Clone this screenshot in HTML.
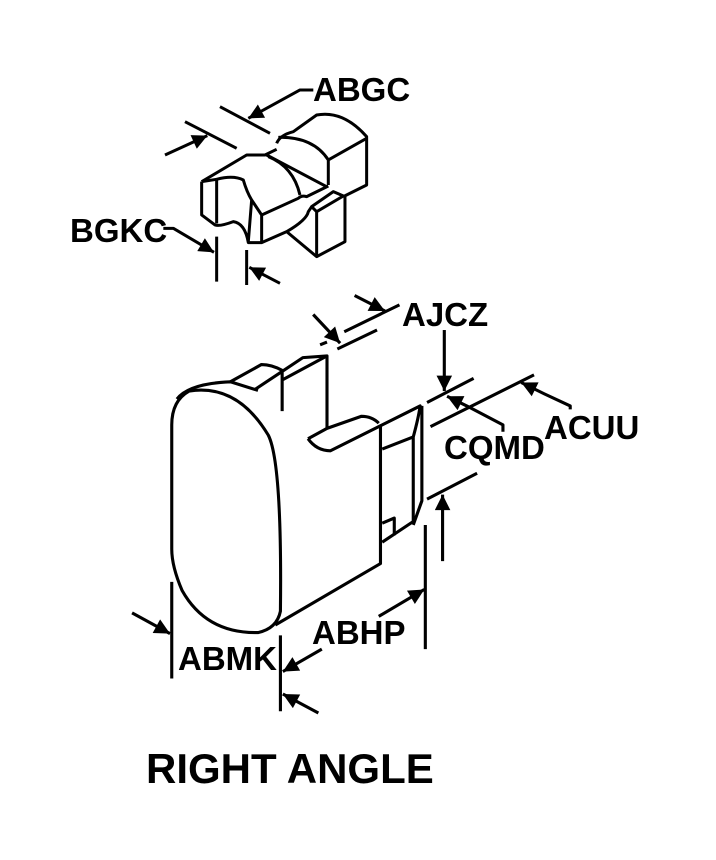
<!DOCTYPE html>
<html><head><meta charset="utf-8"><style>
html,body{margin:0;padding:0;background:#fff;}
svg{display:block;}
text{font-family:"Liberation Sans",Arial,sans-serif;font-weight:bold;fill:#000;}
</style></head><body>
<svg width="716" height="860" viewBox="0 0 716 860" xmlns="http://www.w3.org/2000/svg">
<defs>
<marker id="a" viewBox="0 0 10 10" refX="10" refY="5" markerWidth="8" markerHeight="5" orient="auto" markerUnits="strokeWidth"><path d="M0,0 L10,5 L0,10 Z" fill="#000"/></marker>
</defs>
<g transform="translate(60,60) scale(0.3333)" fill="none" stroke="#000" stroke-width="9" stroke-linejoin="round">
  <path d="M760,90 L720,90 L565,175" marker-end="url(#a)"/>
  <path d="M480,140 L630,220 M375,185 L530,265"/>
  <path d="M315,285 L442,227" marker-end="url(#a)"/>
  <path d="M650,250 Q660,225 700,215 L770,165 Q850,150 920,230 L920,375 L850,410"/>
  <path d="M655,232 Q760,230 805,300 L805,375 M805,300 L920,235"/>
  <path d="M425,365 L560,285 L615,285 L650,268 M620,285 L800,380 M625,290 Q700,320 720,405"/>
  <path d="M425,365 L470,358 M425,365 L425,465 L465,495 Q480,500 520,485 Q555,490 565,548 L605,548 L680,515 L770,590 L855,545 L855,410 L820,395 L755,440 L745,455 Q740,480 680,515"/>
  <path d="M470,358 L470,490 M470,358 Q520,345 550,360 Q560,395 575,420 L605,465 L605,548 M575,420 L565,545 M605,465 L715,415 Q725,405 740,410 L805,378"/>
  <path d="M770,455 L770,590 M755,440 L770,455 L850,408"/>
  <path d="M470,530 L470,665 M560,570 L560,675"/>
  <path d="M310,505 L340,505 L462,577" marker-end="url(#a)"/>
  <path d="M660,670 L568,622" marker-end="url(#a)"/>
</g>
<g transform="translate(120,280) scale(0.345)" fill="none" stroke="#000" stroke-width="9" stroke-linejoin="round">
  <path d="M680,45 L768,90" marker-end="url(#a)"/>
  <path d="M650,150 L810,72 M630,200 L745,145 M580,188 L600,180"/>
  <path d="M560,100 L638,183" marker-end="url(#a)"/>
  <path d="M940,145 L940,322" marker-end="url(#a)"/>
  <path d="M890,355 L1025,285 M900,425 L1200,275"/>
  <path d="M1110,440 L1110,420 L1005,365 L948,337" marker-end="url(#a)"/>
  <path d="M1305,375 L1305,365 L1230,330 L1163,297" marker-end="url(#a)"/>
  <path d="M890,635 L1035,560"/>
  <path d="M935,815 L935,622" marker-end="url(#a)"/>
  <path d="M885,710 L885,1070"/>
  <path d="M750,975 L882,897" marker-end="url(#a)"/>
  <path d="M150,875 L150,1155"/>
  <path d="M35,965 L145,1025" marker-end="url(#a)"/>
  <path d="M465,1030 L465,1250"/>
  <path d="M585,1070 L472,1135" marker-end="url(#a)"/>
  <path d="M575,1255 L472,1200" marker-end="url(#a)"/>
  <path d="M200,322 Q340,300 430,450 Q470,530 465,960 Q455,1010 400,1022 Q250,1025 180,900 Q150,830 150,780 L150,420 Q150,350 200,322 Z"/>
  <path d="M165,345 Q200,300 320,295 L400,320"/>
  <path d="M450,1000 L755,822 L755,420 M320,295 L410,245 Q440,245 470,262 M390,318 L470,265 L530,225 L600,220 L470,290 M600,220 L600,430 M470,262 L470,380"/>
  <path d="M545,460 L600,430 L700,395 Q730,395 750,415 M545,460 Q570,495 610,495 L760,420 L870,365 Q865,400 850,455 L850,700 L760,760 M760,490 L850,455 M875,365 L875,640 L850,710"/>
  <path d="M760,705 L795,690 L795,740"/>
</g>
<text x="313" y="101" font-size="33">ABGC</text>
<text x="70" y="242" font-size="33">BGKC</text>
<text x="402" y="326" font-size="33">AJCZ</text>
<text x="444" y="459" font-size="33">CQMD</text>
<text x="544" y="439" font-size="33">ACUU</text>
<text x="178" y="670" font-size="33">ABMK</text>
<text x="312" y="644" font-size="33">ABHP</text>
<text x="146" y="783" font-size="42">RIGHT ANGLE</text>
</svg>
</body></html>
